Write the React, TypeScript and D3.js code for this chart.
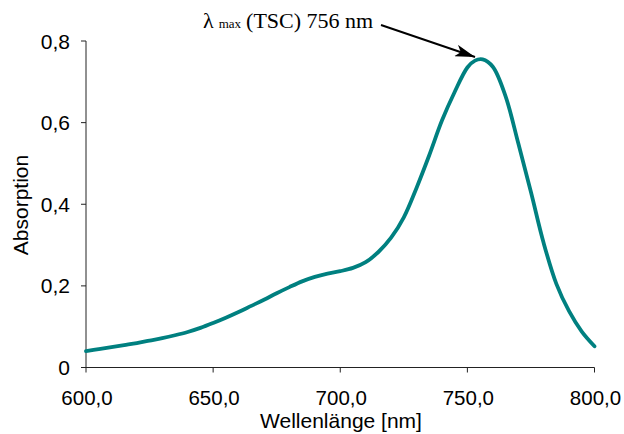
import React from "react";
import * as d3 from "d3";

const wavelengths = [600, 605, 610, 615, 620, 625, 630, 635, 640, 645, 650, 655, 660, 665, 670, 675, 680, 685, 690, 695, 700, 705, 710, 715, 720, 725, 730, 735, 740, 745, 750, 753, 756, 760, 765, 770, 775, 780, 785, 790, 795, 800];
const absorption = [0.040, 0.045, 0.050, 0.055, 0.060, 0.066, 0.072, 0.079, 0.087, 0.097, 0.109, 0.122, 0.136, 0.151, 0.166, 0.182, 0.197, 0.211, 0.222, 0.230, 0.236, 0.244, 0.258, 0.283, 0.318, 0.368, 0.440, 0.520, 0.605, 0.675, 0.735, 0.752, 0.755, 0.737, 0.665, 0.550, 0.430, 0.305, 0.205, 0.138, 0.088, 0.052];
const xTicks = [600, 650, 700, 750, 800];
const yTicks = [0, 0.2, 0.4, 0.6, 0.8];

const W = 624;
const H = 434;

export default function App() {
  const x = d3.scaleLinear().domain([600, 800]).range([86, 594.5]);
  const y = d3.scaleLinear().domain([0, 0.8]).range([367.5, 41]);
  const data = wavelengths.map((w, i) => [w, absorption[i]] as [number, number]);
  const line = d3
    .line<[number, number]>()
    .x((d) => x(d[0]))
    .y((d) => y(d[1]))
    .curve(d3.curveCatmullRom.alpha(0.5));
  const fmtY = (v: number) => (v === 0 ? "0" : v.toFixed(1).replace(".", ","));
  const fmtX = (v: number) => v.toFixed(1).replace(".", ",");
  const font = "Arial, 'Liberation Sans', sans-serif";
  return (
    <svg
      width={W}
      height={H}
      style={{ position: "absolute", left: 0, top: 0, background: "#fff" }}
    >
      <defs>
        <marker id="arrHead" viewBox="0 0 20 12" refX="20" refY="6" markerWidth="20" markerHeight="12" orient="auto" markerUnits="userSpaceOnUse">
          <path d="M0,0 L20,6 L0,12 L5,6 Z" fill="#000" />
        </marker>
      </defs>
      {/* axes */}
      <line x1={x(600)} x2={x(600)} y1={y(0.8)} y2={y(0)} stroke="#222" strokeWidth={1} />
      <line x1={x(600)} x2={x(800)} y1={y(0)} y2={y(0)} stroke="#222" strokeWidth={1} />
      {yTicks.map((t) => (
        <g key={"y" + t}>
          <line x1={x(600) - 5} x2={x(600)} y1={y(t)} y2={y(t)} stroke="#222" strokeWidth={1} />
          <text x={70} y={y(t) + 7.5} textAnchor="end" fontFamily={font} fontSize={21} fill="#000">
            {fmtY(t)}
          </text>
        </g>
      ))}
      {xTicks.map((t) => (
        <g key={"x" + t}>
          <line x1={x(t)} x2={x(t)} y1={y(0)} y2={y(0) + 5} stroke="#222" strokeWidth={1} />
          <text x={x(t) + 1} y={405} textAnchor="middle" fontFamily={font} fontSize={20.5} fill="#000">
            {fmtX(t)}
          </text>
        </g>
      ))}
      <text x={341} y={428} textAnchor="middle" fontFamily={font} fontSize={21} fill="#000">
        Wellenlänge [nm]
      </text>
      <text transform="translate(28,205) rotate(-90)" textAnchor="middle" fontFamily={font} fontSize={21} fill="#000">
        Absorption
      </text>
      {/* data line */}
      <path d={line(data) || ""} fill="none" stroke="#008080" strokeWidth={3.8} strokeLinejoin="round" strokeLinecap="round" />
      {/* annotation */}
      <text x={203} y={28} fontFamily="'Times New Roman', 'Liberation Serif', serif" fontSize={22} fill="#000">
        λ
        <tspan fontSize={13} dx={5}>max</tspan>
        <tspan dx={5}>(TSC) 756 nm</tspan>
      </text>
      <line x1={381} y1={25} x2={475} y2={57} stroke="#000" strokeWidth={2} markerEnd="url(#arrHead)" />
    </svg>
  );
}
